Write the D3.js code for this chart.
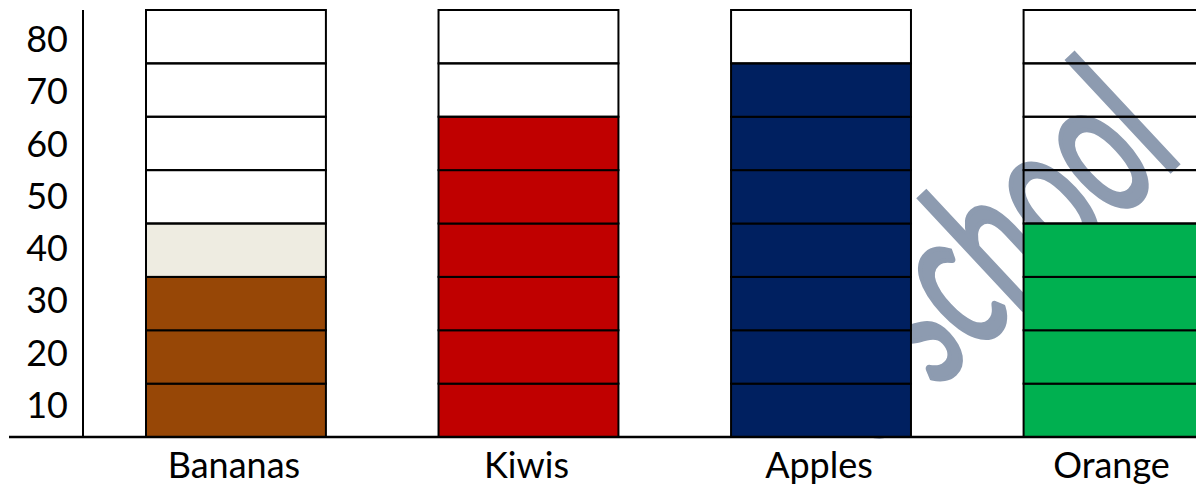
<!DOCTYPE html>
<html>
<head>
<meta charset="utf-8">
<script src="https://cdn.jsdelivr.net/npm/d3@7"></script>
<style>
  html, body { margin: 0; padding: 0; background: #fff; }
  svg { display: block; }
  .lbl { font-family: Lato, "Noto Sans", sans-serif; fill: #000; }
</style>
</head>
<body>
<div id="chart"></div>
<script>
// data
var fruits = ["Bananas", "Kiwis", "Apples", "Orange"];
var filled = [30, 60, 70, 40];     // solid coloured part
var partial = [10, 0, 0, 0];       // light extra block (Bananas only)
var colors = ["#974706", "#C00000", "#002060", "#00B050"];
var partialColor = "#EEECE1";
var yTicks = [10, 20, 30, 40, 50, 60, 70, 80];
var watermark = "e school";

var w = 1196, h = 487;

var svg = d3.select("#chart")
  .append("svg")
  .attr("width", w)
  .attr("height", h);

// scales
var y = d3.scaleLinear()
  .domain([0, 80])
  .range([437, 10]);

var x = d3.scaleBand()
  .domain(fruits)
  .range([146, 1203.5])
  .paddingInner(0.385)
  .paddingOuter(0);

// labels sit in the middle of each block, slightly squeezed
var yLabel = d3.scaleLinear()
  .domain([10, 80])
  .range([418, 52]);

// watermark behind everything
svg.append("g")
  .attr("transform", "translate(1012,318) rotate(-43) scale(0.88,1.5)")
  .append("text")
    .attr("x", -225)
    .attr("y", 0)
    .attr("font-family", "Lato, sans-serif")
    .attr("font-size", 136)
    .attr("fill", "#8D9BB0")
    .attr("stroke", "#8D9BB0")
    .attr("stroke-width", 3.5)
    .text(watermark);

// y axis line
svg.append("line")
  .attr("x1", 83).attr("x2", 83)
  .attr("y1", y(80)).attr("y2", y(0))
  .attr("stroke", "#000")
  .attr("stroke-width", 2);

// blocks
var cells = [];
fruits.forEach(function(f, i) {
  yTicks.forEach(function(t) {
    var fill = "none";
    if (t <= filled[i]) fill = colors[i];
    else if (t <= filled[i] + partial[i]) fill = partialColor;
    cells.push({fruit: f, lo: t - 10, hi: t, fill: fill});
  });
});

svg.selectAll("rect.cell")
  .data(cells)
  .enter()
  .append("rect")
    .attr("class", "cell")
    .attr("x", function(d) { return x(d.fruit); })
    .attr("y", function(d) { return y(d.hi); })
    .attr("width", x.bandwidth())
    .attr("height", function(d) { return y(d.lo) - y(d.hi); })
    .attr("fill", function(d) { return d.fill; })
    .attr("stroke", "#000")
    .attr("stroke-width", 2);

// baseline
svg.append("line")
  .attr("x1", 9).attr("x2", w)
  .attr("y1", y(0)).attr("y2", y(0))
  .attr("stroke", "#000")
  .attr("stroke-width", 2.5);

// y labels
svg.selectAll("text.ylab")
  .data(yTicks)
  .enter()
  .append("text")
    .attr("class", "lbl ylab")
    .attr("x", 68)
    .attr("y", function(d) { return yLabel(d); })
    .attr("text-anchor", "end")
    .attr("font-size", 36)
    .text(function(d) { return d; });

// x labels
svg.selectAll("text.xlab")
  .data(fruits)
  .enter()
  .append("text")
    .attr("class", "lbl xlab")
    .attr("x", function(d) { return x(d) + x.bandwidth() / 2 - 2; })
    .attr("y", 478)
    .attr("text-anchor", "middle")
    .attr("font-size", 36)
    .text(function(d) { return d; });
</script>
</body>
</html>
